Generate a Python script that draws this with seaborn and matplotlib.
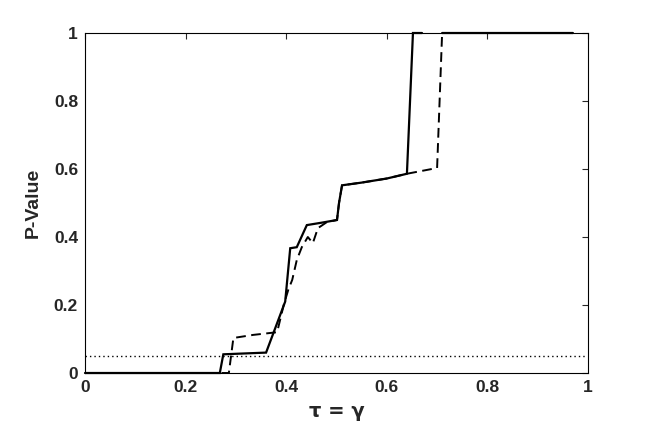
import numpy as np
import pandas as pd
import matplotlib
matplotlib.use("Agg")
import matplotlib.pyplot as plt
import seaborn as sns

# Solid curve (tau = gamma)
solid_x = [0.0, 0.268, 0.275, 0.36, 0.398, 0.408, 0.421, 0.441, 0.47, 0.501, 0.505, 0.511,
           0.55, 0.60, 0.64, 0.652, 0.67, np.nan, 0.71, 0.97]
solid_y = [0.0, 0.0, 0.055, 0.06, 0.21, 0.367, 0.37, 0.435, 0.442, 0.45, 0.50, 0.552,
           0.560, 0.572, 0.586, 1.0, 1.0, np.nan, 1.0, 1.0]

# Dashed curve
dashed_x = [0.0, 0.286, 0.295, 0.334, 0.382, 0.395, 0.404, 0.412, 0.421, 0.431, 0.443,
            0.453, 0.463, 0.481, 0.501, 0.505, 0.511, 0.55, 0.60, 0.64, 0.70, 0.71]
dashed_y = [0.0, 0.0, 0.103, 0.112, 0.12, 0.20, 0.244, 0.274, 0.332, 0.37, 0.40,
            0.382, 0.426, 0.444, 0.45, 0.50, 0.552, 0.560, 0.572, 0.586, 0.603, 1.0]

# Significance level
alpha_level = 0.05

x_ticks = [0, 0.2, 0.4, 0.6, 0.8, 1]
x_tick_labels = ["0", "0.2", "0.4", "0.6", "0.8", "1"]
y_ticks = [0, 0.2, 0.4, 0.6, 0.8, 1]
y_tick_labels = ["0", "0.2", "0.4", "0.6", "0.8", "1"]

sns.set_style("white")
plt.rcParams['font.family'] = ['Liberation Sans', 'DejaVu Sans']

fig = plt.figure(figsize=(6.5, 4.29), dpi=100)
ax = fig.add_axes([85/650, 56/429, 503/650, 340/429])

df_s = pd.DataFrame({"x": solid_x, "y": solid_y})
df_d = pd.DataFrame({"x": dashed_x, "y": dashed_y})

ax.plot(df_s["x"], df_s["y"], color="black", lw=1.6, solid_joinstyle="miter", clip_on=False, zorder=3)
sns.lineplot(data=df_d, x="x", y="y", ax=ax, sort=False, estimator=None,
             color="black", lw=1.4, clip_on=False, zorder=4)
ax.lines[-1].set_dashes((5, 2.8))

ax.plot([0, 0.995], [alpha_level, alpha_level], color="black", lw=1.0,
        linestyle=(0, (1, 2.2)), zorder=2)

ax.set_xlim(0, 1)
ax.set_ylim(0, 1)
ax.set_xticks(x_ticks)
ax.set_xticklabels(x_tick_labels, fontsize=12.5, fontweight="bold")
ax.set_yticks(y_ticks)
ax.set_yticklabels(y_tick_labels, fontsize=12.5, fontweight="bold")
ax.tick_params(direction="in", length=4, width=0.8, top=True, right=True,
               labeltop=False, labelright=False, pad=5)
for sp in ax.spines.values():
    sp.set_visible(True)
    sp.set_color("black")
    sp.set_linewidth(0.8)

ax.set_xlabel("τ = γ", fontsize=14, fontweight="bold", labelpad=5,
              family=['DejaVu Sans'])
ax.set_ylabel("P-Value", fontsize=14, fontweight="bold", labelpad=9)

fig.savefig("out.png", dpi=100, facecolor="white")
